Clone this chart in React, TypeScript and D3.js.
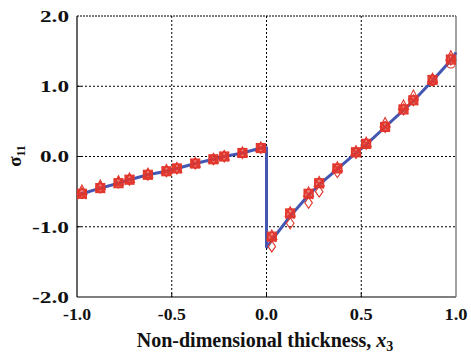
import React from "react";
import * as d3 from "d3";

const lineLower: [number, number][] = [
  [-1, -0.57], [-0.974, -0.53], [-0.877, -0.45], [-0.781, -0.38], [-0.723, -0.33],
  [-0.626, -0.26], [-0.528, -0.21], [-0.473, -0.17], [-0.376, -0.1], [-0.28, -0.04],
  [-0.223, 0.0], [-0.127, 0.05], [-0.03, 0.12], [0, 0.14],
];
const lineUpper: [number, number][] = [
  [0, -1.3], [0.028, -1.19], [0.125, -0.85], [0.222, -0.55], [0.278, -0.4],
  [0.374, -0.18], [0.472, 0.05], [0.526, 0.17], [0.626, 0.42], [0.723, 0.66],
  [0.775, 0.79], [0.876, 1.08], [0.973, 1.37], [1, 1.48],
];

const xPts = [-0.974, -0.877, -0.781, -0.723, -0.626, -0.528, -0.473, -0.376, -0.28, -0.223, -0.127, -0.03,
  0.028, 0.125, 0.222, 0.278, 0.374, 0.472, 0.526, 0.626, 0.723, 0.775, 0.876, 0.973];
const squareVals = [-0.53, -0.45, -0.38, -0.33, -0.26, -0.21, -0.17, -0.1, -0.04, 0.0, 0.05, 0.12,
  -1.14, -0.81, -0.53, -0.38, -0.17, 0.06, 0.18, 0.42, 0.67, 0.8, 1.09, 1.38];
const crossVals = [-0.54, -0.45, -0.38, -0.33, -0.26, -0.21, -0.17, -0.1, -0.04, 0.0, 0.05, 0.12,
  -1.15, -0.82, -0.54, -0.39, -0.17, 0.06, 0.18, 0.42, 0.67, 0.8, 1.09, 1.38];
const triangleVals = [-0.49, -0.42, -0.36, -0.32, -0.25, -0.2, -0.17, -0.1, -0.04, 0.0, 0.05, 0.12,
  -1.13, -0.8, -0.52, -0.37, -0.16, 0.07, 0.19, 0.47, 0.72, 0.86, 1.1, 1.42];
const circleVals = [-0.53, -0.45, -0.38, -0.33, -0.26, -0.21, -0.17, -0.1, -0.04, 0.0, 0.05, 0.12,
  -1.14, -0.81, -0.53, -0.38, -0.17, 0.06, 0.18, 0.43, 0.67, 0.8, 1.07, 1.32];
const diamondVals = [-0.52, -0.44, -0.37, -0.33, -0.26, -0.21, -0.17, -0.1, -0.04, 0.0, 0.05, 0.12,
  -1.28, -0.95, -0.66, -0.5, -0.22, 0.05, 0.18, 0.42, 0.67, 0.8, 1.09, 1.38];

const xTicks = [-1, -0.5, 0, 0.5, 1];
const yTicks = [-2, -1, 0, 1, 2];

const W = 471, H = 356;
const L = 77, R = 456, T = 16, B = 297;
const RED = "#e2362c";
const BLUE = "#4457b3";

export default function App() {
  const x = d3.scaleLinear().domain([-1, 1]).range([L, R]);
  const y = d3.scaleLinear().domain([-2, 2]).range([B, T]);
  const line = d3.line<[number, number]>().x(d => x(d[0])).y(d => y(d[1]));
  const jump: [number, number][] = [[0, lineLower[lineLower.length - 1][1]], [0, lineUpper[0][1]]];
  const font = "'Liberation Serif', 'Times New Roman', serif";
  const s = 4.5;
  return (
    <svg width={W} height={H} style={{ position: "absolute", left: 0, top: 0, background: "#fff" }}>
      {/* grid */}
      {xTicks.slice(1, -1).map(t => (
        <line key={"gx" + t} x1={x(t)} x2={x(t)} y1={T} y2={B} stroke="#000" strokeWidth={1} strokeDasharray="2,2" />
      ))}
      {yTicks.slice(1, -1).map(t => (
        <line key={"gy" + t} x1={L} x2={R} y1={y(t)} y2={y(t)} stroke="#000" strokeWidth={1} strokeDasharray="2,2" />
      ))}
      <line x1={L} x2={R} y1={T} y2={T} stroke="#000" strokeWidth={1} strokeDasharray="2,1" />
      {/* ticks */}
      {xTicks.slice(1, -1).map(t => (
        <line key={"tx" + t} x1={x(t)} x2={x(t)} y1={B} y2={B - 4} stroke="#000" strokeWidth={1} />
      ))}
      {yTicks.slice(1, -1).map(t => (
        <line key={"ty" + t} x1={L} x2={L + 4} y1={y(t)} y2={y(t)} stroke="#000" strokeWidth={1} />
      ))}
      {/* frame */}
      <line x1={L} x2={L} y1={T} y2={B} stroke="#000" strokeWidth={1.2} />
      <line x1={L} x2={R} y1={B} y2={B} stroke="#000" strokeWidth={1.2} />
      <line x1={R} x2={R} y1={T} y2={B} stroke="#666" strokeWidth={1.2} />
      {/* blue line */}
      <path d={line(lineLower) || ""} fill="none" stroke={BLUE} strokeWidth={3} />
      <path d={line(jump) || ""} fill="none" stroke={BLUE} strokeWidth={3} />
      <path d={line(lineUpper) || ""} fill="none" stroke={BLUE} strokeWidth={3} />
      {/* markers */}
      <g fill="none" stroke={RED} strokeWidth={1.1}>
        {xPts.map((xv, i) => (
          <rect key={"s" + i} x={x(xv) - s} y={y(squareVals[i]) - s} width={2 * s} height={2 * s} fill={RED} fillOpacity={0.65} />
        ))}
        {xPts.map((xv, i) => {
          const cx = x(xv), cy = y(crossVals[i]);
          return <path key={"c" + i} d={`M${cx - s},${cy - s}L${cx + s},${cy + s}M${cx - s},${cy + s}L${cx + s},${cy - s}`} strokeWidth={1.4} />;
        })}
        {xPts.map((xv, i) => {
          const cx = x(xv), cy = y(triangleVals[i]);
          return <path key={"t" + i} d={`M${cx},${cy - 6}L${cx + 5},${cy + 3.5}L${cx - 5},${cy + 3.5}Z`} />;
        })}
        {xPts.map((xv, i) => (
          <circle key={"o" + i} cx={x(xv)} cy={y(circleVals[i])} r={4.3} />
        ))}
        {xPts.map((xv, i) => {
          const cx = x(xv), cy = y(diamondVals[i]);
          return <path key={"d" + i} d={`M${cx},${cy - 5.5}L${cx + 3.8},${cy}L${cx},${cy + 5.5}L${cx - 3.8},${cy}Z`} />;
        })}
      </g>
      {/* tick labels */}
      <g fontFamily={font} fontWeight="bold" fontSize={16} fill="#111">
        {yTicks.map(t => {
          const lbl = t.toFixed(1);
          return (
            <text key={"ly" + t} x={L - 8} y={y(t)} dy="0.36em" textAnchor="end"
              textLength={t < 0 ? 37 : 29} lengthAdjust="spacingAndGlyphs">{lbl}</text>
          );
        })}
        {xTicks.map(t => {
          const lbl = t.toFixed(1);
          return (
            <text key={"lx" + t} x={x(t)} y={B + 23} textAnchor="middle"
              textLength={t < 0 ? 28 : 23} lengthAdjust="spacingAndGlyphs">{lbl}</text>
          );
        })}
      </g>
      <text x={265} y={347} textAnchor="middle" fontFamily={font} fontWeight="bold" fontSize={20} fill="#111">
        Non-dimensional thickness, <tspan fontStyle="italic">x</tspan><tspan fontSize={14} dy={4}>3</tspan>
      </text>
      <text transform={`translate(21,156) rotate(-90)`} textAnchor="middle" fontFamily={font} fontWeight="bold" fontSize={19} fill="#111">
        σ<tspan fontSize={12} dy={4}>11</tspan>
      </text>
    </svg>
  );
}
